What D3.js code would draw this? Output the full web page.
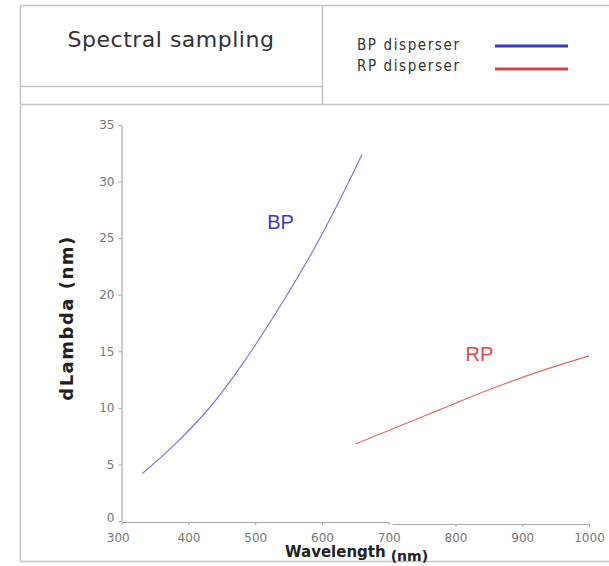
<!DOCTYPE html>
<html>
<head>
<meta charset="utf-8">
<script src="https://cdn.jsdelivr.net/npm/d3@7/dist/d3.min.js"></script>
<style>
  html, body { margin: 0; padding: 0; background: #fff; }
  svg { display: block; }
</style>
</head>
<body>
<svg id="chart" width="609" height="566"></svg>
<script>
// ---- data ----
const title = "Spectral sampling";
const seriesNames = ["BP disperser", "RP disperser"];
const seriesLabels = ["BP", "RP"];
const bpWavelength = [331, 380, 430, 480, 530, 580, 620, 660];
const bpDLambda    = [4.2, 6.8, 9.9, 13.8, 18.3, 23.2, 27.6, 32.4];
const rpWavelength = [650, 700, 775, 850, 925, 1000];
const rpDLambda    = [6.8, 8.0, 9.8, 11.6, 13.2, 14.6];
const xTicksLeft  = [300, 400, 500, 600, 700];
const xTicksRight = [800, 900, 1000];
const yTicks = [0, 5, 10, 15, 20, 25, 30, 35];
const xTitle = "Wavelength";
const xUnit = "(nm)";
const yTitle = "dLambda (nm)";

// ---- drawing ----
const svg = d3.select("#chart");
const frame = "#c4c4c4";

// header frame
const fr = svg.append("g").attr("stroke", frame).attr("stroke-width", 1.5).attr("fill", "none");
fr.append("line").attr("x1", 20).attr("x2", 609).attr("y1", 5.5).attr("y2", 5.5);
fr.append("line").attr("x1", 20.5).attr("x2", 20.5).attr("y1", 5).attr("y2", 562);
fr.append("line").attr("x1", 322.5).attr("x2", 322.5).attr("y1", 5).attr("y2", 104);
fr.append("line").attr("x1", 20).attr("x2", 322).attr("y1", 86.5).attr("y2", 86.5);
fr.append("line").attr("x1", 20).attr("x2", 609).attr("y1", 104.5).attr("y2", 104.5);
fr.append("line").attr("x1", 20).attr("x2", 609).attr("y1", 561.5).attr("y2", 561.5);

svg.append("text").attr("x", 171).attr("y", 47)
  .attr("text-anchor", "middle")
  .attr("font-family", "DejaVu Sans, sans-serif").attr("font-size", 22)
  .attr("letter-spacing", 0.5)
  .attr("fill", "#333").text(title);

// legend
const legColors = ["#3a3ab4", "#cc4848"];
seriesNames.forEach((n, i) => {
  svg.append("text").attr("x", 357).attr("y", 50 + i * 21)
    .attr("font-family", "DejaVu Sans Condensed, DejaVu Sans, sans-serif")
    .attr("font-size", 15).attr("letter-spacing", 1.6).attr("fill", "#333").text(n);
  svg.append("line").attr("x1", 495).attr("x2", 568)
    .attr("y1", 46 + i * 23).attr("y2", 46 + i * 23)
    .attr("stroke", legColors[i]).attr("stroke-width", 3.2);
});

// scales
const x = d3.scaleLinear().domain([300, 1000]).range([121.7, 589]);
const y = d3.scaleLinear().domain([0, 35]).range([521, 125]);

const axisColor = "#a8a8a8";
const tickFont = "DejaVu Sans, sans-serif";

function styleAxis(g) {
  g.select(".domain").attr("stroke", axisColor).attr("stroke-width", 1.2);
  g.selectAll(".tick line").attr("stroke", axisColor);
  g.selectAll(".tick text").attr("fill", "#777").attr("font-family", tickFont).attr("font-size", 12);
}

// y axis
const gy = svg.append("g").attr("transform", "translate(121.5,0)")
  .call(d3.axisLeft(y).tickValues(yTicks).tickSize(3).tickPadding(4).tickSizeOuter(0));
styleAxis(gy);
gy.selectAll(".tick").filter(d => d === 0).select("text").attr("dy", "0.0em");

// x axis - left segment
const xl = d3.scaleLinear().domain([300, 700]).range([x(300), x(700)]);
const gxl = svg.append("g").attr("transform", "translate(0,522)")
  .call(d3.axisBottom(xl).tickValues(xTicksLeft).tickSize(3).tickPadding(8).tickSizeOuter(0).tickFormat(d3.format("d")));
styleAxis(gxl);
gxl.selectAll(".tick").filter(d => d === 300).select("text").attr("dx", "-4");

// x axis - right segment
const xr = d3.scaleLinear().domain([705, 1000]).range([x(705), x(1000)]);
const gxr = svg.append("g").attr("transform", "translate(0,524)")
  .call(d3.axisBottom(xr).tickValues(xTicksRight).tickSize(3).tickPadding(6).tickSizeOuter(0).tickFormat(d3.format("d")));
styleAxis(gxr);

// axis titles
const xt = svg.append("text").attr("x", 285).attr("y", 557)
  .attr("font-family", "DejaVu Sans, sans-serif").attr("font-weight", "bold")
  .attr("fill", "#222");
xt.append("tspan").attr("font-size", 15).text(xTitle);
xt.append("tspan").attr("font-size", 14).attr("dx", 5).attr("dy", 4).text(xUnit);

svg.append("text")
  .attr("transform", "translate(73,318) rotate(-90)")
  .attr("text-anchor", "middle")
  .attr("font-family", "DejaVu Sans, sans-serif").attr("font-weight", "bold")
  .attr("font-size", 18).attr("letter-spacing", 1.5).attr("fill", "#222").text(yTitle);

// lines
const line = d3.line().x(d => x(d[0])).y(d => y(d[1])).curve(d3.curveCatmullRom.alpha(0.5));
const bp = bpWavelength.map((w, i) => [w, bpDLambda[i]]);
const rp = rpWavelength.map((w, i) => [w, rpDLambda[i]]);
svg.append("path").datum(bp).attr("d", line).attr("fill", "none")
  .attr("stroke", "#7a7ad8").attr("stroke-width", 1.2);
svg.append("path").datum(rp).attr("d", line).attr("fill", "none")
  .attr("stroke", "#e06a6a").attr("stroke-width", 1.2);

// series labels
svg.append("text").attr("x", x(538)).attr("y", y(25.8)).attr("text-anchor", "middle")
  .attr("font-family", "Liberation Sans, Arial, sans-serif").attr("font-size", 20)
  .attr("fill", "#3a3acc").text(seriesLabels[0]);
svg.append("text").attr("x", x(836)).attr("y", y(14.1)).attr("text-anchor", "middle")
  .attr("font-family", "Liberation Sans, Arial, sans-serif").attr("font-size", 20)
  .attr("fill", "#dd4a4a").text(seriesLabels[1]);
</script>
</body>
</html>
